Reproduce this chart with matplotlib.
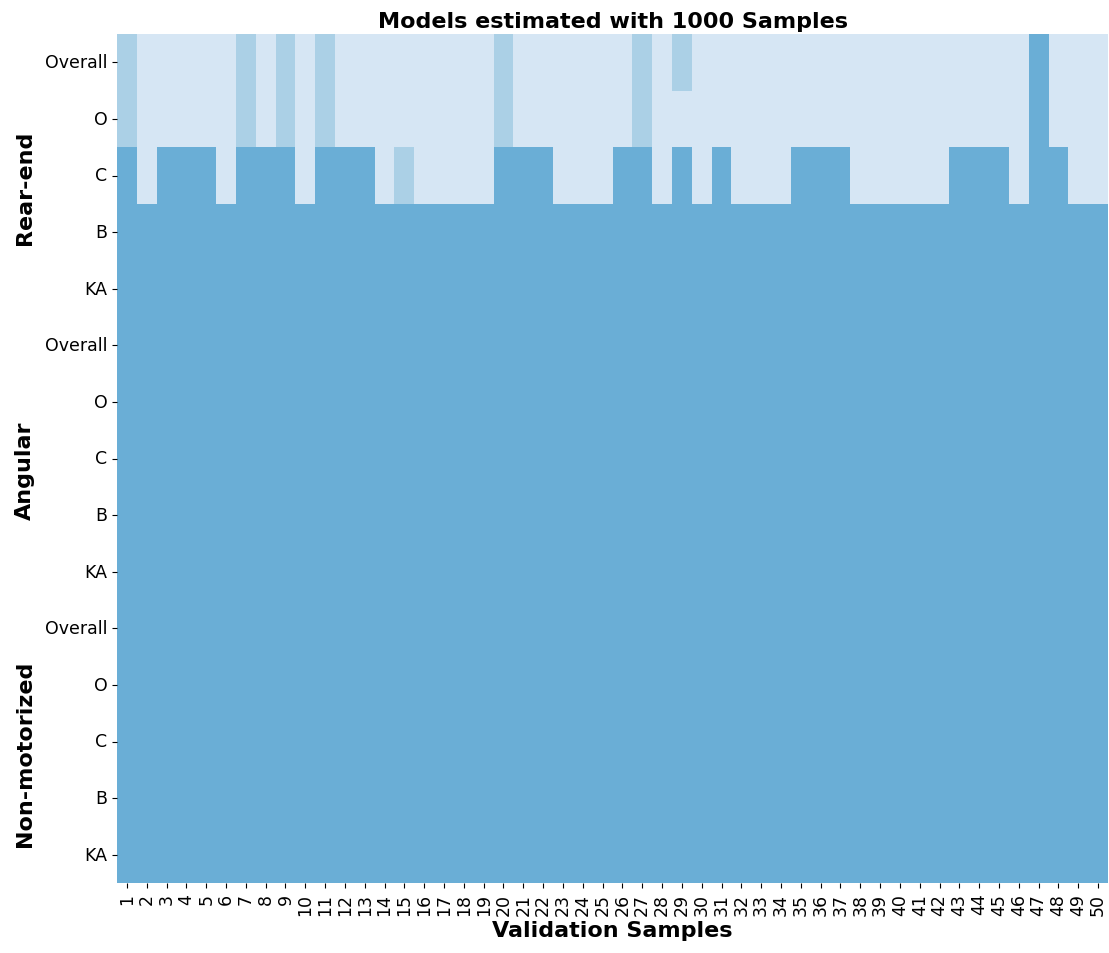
import matplotlib
matplotlib.use("Agg")
import matplotlib.pyplot as plt
import numpy as np
import seaborn as sns

# 1 = light, 2 = medium-light, 3 = medium blue
groups = ["Rear-end", "Angular", "Non-motorized"]
metrics = ["Overall", "O", "C", "B", "KA"]
samples = [str(i) for i in range(1, 51)]

rear_overall = [2, 1, 1, 1, 1, 1, 2, 1, 2, 1, 2, 1, 1, 1, 1, 1, 1, 1, 1, 2,
                1, 1, 1, 1, 1, 1, 2, 1, 2, 1, 1, 1, 1, 1, 1, 1, 1, 1, 1, 1,
                1, 1, 1, 1, 1, 1, 3, 1, 1, 1]
rear_o = [2, 1, 1, 1, 1, 1, 2, 1, 2, 1, 2, 1, 1, 1, 1, 1, 1, 1, 1, 2,
          1, 1, 1, 1, 1, 1, 2, 1, 1, 1, 1, 1, 1, 1, 1, 1, 1, 1, 1, 1,
          1, 1, 1, 1, 1, 1, 3, 1, 1, 1]
rear_c = [3, 1, 3, 3, 3, 1, 3, 3, 3, 1, 3, 3, 3, 1, 2, 1, 1, 1, 1, 3,
          3, 3, 1, 1, 1, 3, 3, 1, 3, 1, 3, 1, 1, 1, 3, 3, 3, 1, 1, 1,
          1, 1, 3, 3, 3, 1, 3, 3, 1, 1]
rear_b = [3] * 50
rear_ka = [3] * 50
angular_rows = [[3] * 50 for _ in metrics]
nonmotor_rows = [[3] * 50 for _ in metrics]

data = np.array([rear_overall, rear_o, rear_c, rear_b, rear_ka]
                + angular_rows + nonmotor_rows)
ylabels = metrics * len(groups)

fig = plt.figure(figsize=(11.09, 9.54), dpi=100)
ax = fig.add_axes([117 / 1109, 1 - 884 / 954, 991 / 1109, 849 / 954])

sns.heatmap(data, cmap="Blues", vmin=0, vmax=6, cbar=False, ax=ax,
            xticklabels=samples, yticklabels=ylabels)

ax.set_title("Models estimated with 1000 Samples", fontsize=16,
             fontweight="bold", pad=5)
ax.set_xlabel("Validation Samples", fontsize=16, fontweight="bold")
ax.tick_params(axis="x", labelsize=12.5, rotation=90)
ax.tick_params(axis="y", labelsize=12.5, rotation=0)

# group labels along the left side
for i, g in enumerate(groups):
    fig.text(25 / 1109, 1 - (35 + (i * 5 + 2.7) * 849 / 15) / 954, g,
             rotation=90, fontsize=16, fontweight="bold",
             ha="center", va="center")

fig.savefig("out.png", dpi=100)
